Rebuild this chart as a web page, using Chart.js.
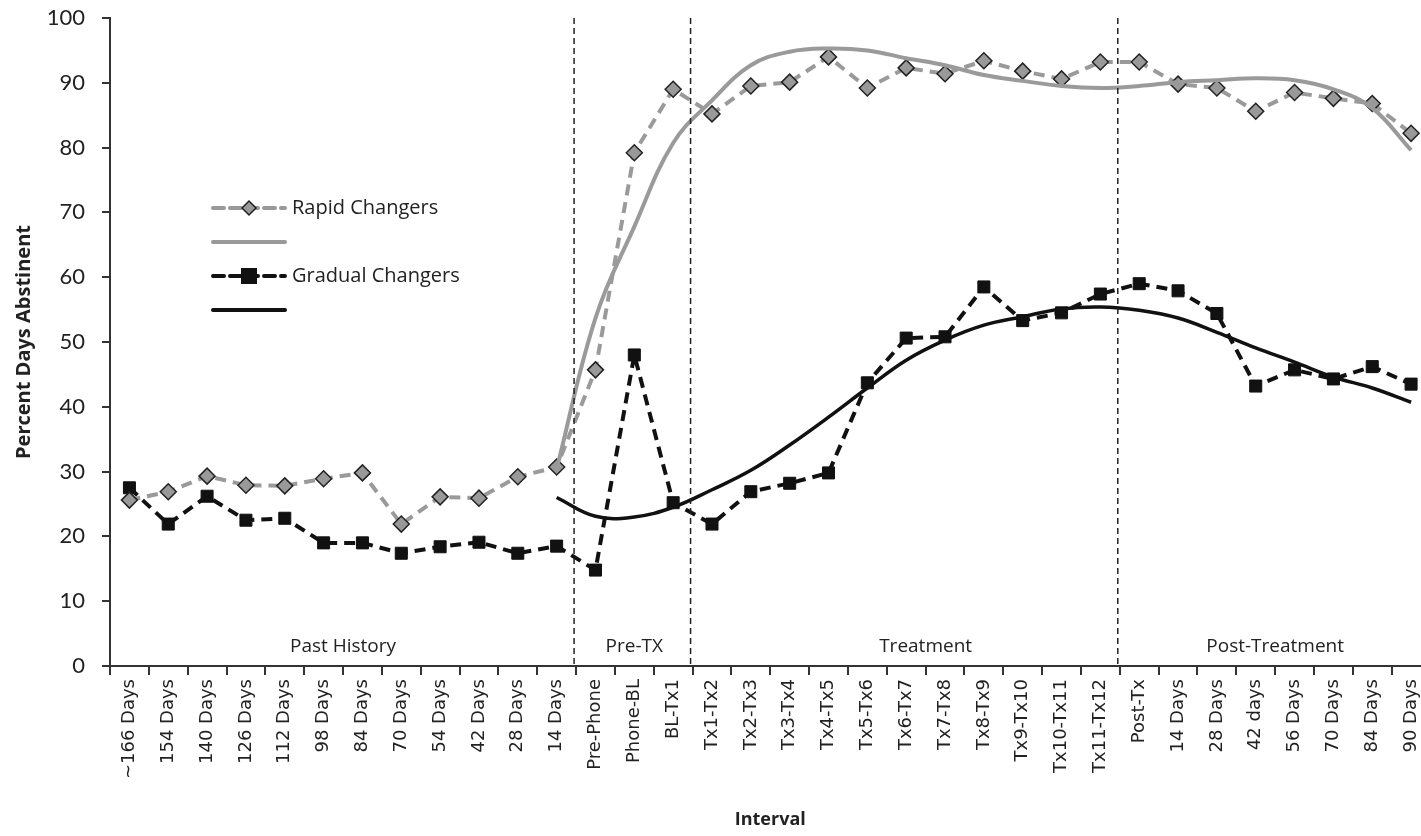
<!DOCTYPE html>
<html>
<head>
<meta charset="utf-8">
<script src="https://cdn.jsdelivr.net/npm/chart.js@4.4.1/dist/chart.umd.min.js"></script>
<style>
  html, body { margin: 0; padding: 0; background: #fff; overflow: hidden; }
  #wrap { width: 1421px; height: 836px; overflow: hidden; }
</style>
</head>
<body>
<div id="wrap"><canvas id="abst_chart" width="1440" height="836"></canvas></div>
<script>
var intervals = ["~166 Days", "154 Days", "140 Days", "126 Days", "112 Days", "98 Days", "84 Days",
    "70 Days", "54 Days", "42 Days", "28 Days", "14 Days", "Pre-Phone", "Phone-BL", "BL-Tx1",
    "Tx1-Tx2", "Tx2-Tx3", "Tx3-Tx4", "Tx4-Tx5", "Tx5-Tx6", "Tx6-Tx7", "Tx7-Tx8", "Tx8-Tx9",
    "Tx9-Tx10", "Tx10-Tx11", "Tx11-Tx12", "Post-Tx", "14 Days", "28 Days", "42 days", "56 Days",
    "70 Days", "84 Days", "90 Days"];

var rapid = [25.6, 26.9, 29.3, 27.9, 27.8, 28.9, 29.8, 21.9, 26.1, 25.9, 29.2, 30.7, 45.7, 79.2, 89.0,
    85.2, 89.5, 90.1, 94.0, 89.2, 92.3, 91.4, 93.4, 91.8, 90.6, 93.2, 93.2, 89.8, 89.2, 85.6, 88.5,
    87.6, 86.8, 82.2];

var gradual = [27.5, 21.9, 26.2, 22.5, 22.8, 19.0, 19.0, 17.4, 18.4, 19.1, 17.4, 18.5, 14.8, 48.0, 25.2,
    21.9, 26.9, 28.2, 29.8, 43.7, 50.6, 50.8, 58.5, 53.3, 54.5, 57.4, 59.0, 57.9, 54.4, 43.2, 45.7,
    44.3, 46.2, 43.5];

// fitted trend lines, only from "14 Days" on
var rapidTrend = [null, null, null, null, null, null, null, null, null, null, null, 30.4, 53.7, 67.8, 80.7,
    87.3, 92.7, 94.8, 95.3, 95.0, 93.8, 92.7, 91.2, 90.3, 89.5, 89.2, 89.5, 90.1, 90.4, 90.7, 90.4,
    89.0, 86.1, 79.6];

var gradualTrend = [null, null, null, null, null, null, null, null, null, null, null, 26.0, 23.1, 23.0, 24.5,
    27.2, 30.2, 34.1, 38.4, 42.9, 47.2, 50.3, 52.6, 53.9, 55.1, 55.4, 54.9, 53.7, 51.5, 49.1, 46.9,
    44.6, 42.9, 40.7];

var yTicks = [0, 10, 20, 30, 40, 50, 60, 70, 80, 90, 100];

// phase dividers sit between these category indexes and the next one
var dividers = [11, 14, 25];
var phaseNames = ["Past History", "Pre-TX", "Treatment", "Post-Treatment"];
var phaseCenters = [5.5, 13, 20.5, 29.5];

var phasePlugin = {
    id: "phases",
    afterDatasetsDraw: function(chart) {
        var ctx = chart.ctx;
        var xs = chart.scales.x;
        var area = chart.chartArea;
        ctx.save();
        ctx.strokeStyle = "#222";
        ctx.lineWidth = 1.5;
        ctx.setLineDash([6, 4]);
        dividers.forEach(function(i) {
            var x = (xs.getPixelForValue(i) + xs.getPixelForValue(i + 1)) / 2 - 2;
            ctx.beginPath();
            ctx.moveTo(x, area.top);
            ctx.lineTo(x, area.bottom);
            ctx.stroke();
        });
        ctx.setLineDash([]);
        ctx.fillStyle = "#222";
        ctx.font = "19px 'Open Sans'";
        ctx.textAlign = "center";
        ctx.textBaseline = "middle";
        phaseNames.forEach(function(name, k) {
            var c = phaseCenters[k];
            var x = (xs.getPixelForValue(Math.floor(c)) + xs.getPixelForValue(Math.ceil(c))) / 2;
            ctx.fillText(name, x, area.bottom - 19);
        });

        // legend inside the plot, as in the original
        var rows = [
            { y: 208, color: "#999", dash: [11, 6], marker: "diamond", text: "Rapid Changers" },
            { y: 242, color: "#999", dash: [], marker: null, text: "" },
            { y: 276, color: "#111", dash: [11, 6], marker: "square", text: "Gradual Changers" },
            { y: 310, color: "#111", dash: [], marker: null, text: "" }
        ];
        var x0 = 213, x1 = 285;
        rows.forEach(function(r) {
            ctx.strokeStyle = r.color;
            ctx.lineWidth = 4;
            ctx.lineCap = "round";
            ctx.setLineDash(r.dash);
            ctx.beginPath();
            ctx.moveTo(x0, r.y);
            ctx.lineTo(x1, r.y);
            ctx.stroke();
            ctx.setLineDash([]);
            var mx = (x0 + x1) / 2;
            if (r.marker === "diamond") {
                ctx.fillStyle = "#999";
                ctx.strokeStyle = "#222";
                ctx.lineWidth = 1.5;
                ctx.beginPath();
                ctx.moveTo(mx, r.y - 7);
                ctx.lineTo(mx + 7, r.y);
                ctx.lineTo(mx, r.y + 7);
                ctx.lineTo(mx - 7, r.y);
                ctx.closePath();
                ctx.fill();
                ctx.stroke();
            } else if (r.marker === "square") {
                ctx.fillStyle = "#111";
                ctx.fillRect(mx - 8, r.y - 8, 16, 16);
            }
            if (r.text) {
                ctx.fillStyle = "#222";
                ctx.font = "20px 'Open Sans'";
                ctx.textAlign = "left";
                ctx.fillText(r.text, 292, r.y);
            }
        });
        ctx.restore();
    }
};

var ctx = document.getElementById("abst_chart");
var chart = new Chart(ctx, {
    type: "line",
    data: {
        labels: intervals,
        datasets: [
            { label: "Rapid Changers trend", data: rapidTrend, borderColor: "#9a9a9a", borderWidth: 4,
              pointRadius: 0, tension: 0.4, fill: false },
            { label: "Gradual Changers trend", data: gradualTrend, borderColor: "#111", borderWidth: 3.5,
              pointRadius: 0, tension: 0.4, fill: false },
            { label: "Rapid Changers", data: rapid, borderColor: "#9a9a9a", borderWidth: 4,
              borderDash: [11, 7], pointStyle: "rectRot", pointRadius: 8, pointBackgroundColor: "#999",
              pointBorderColor: "#222", pointBorderWidth: 1.5, tension: 0, fill: false },
            { label: "Gradual Changers", data: gradual, borderColor: "#111", borderWidth: 4,
              borderDash: [11, 7], pointStyle: "rect", pointRadius: 8.5, pointBackgroundColor: "#111",
              pointBorderColor: "#111", pointBorderWidth: 1, tension: 0, fill: false }
        ]
    },
    options: {
        responsive: false,
        animation: false,
        layout: { padding: { top: 18, right: 1, left: 0, bottom: 0 } },
        plugins: {
            legend: { display: false },
            tooltip: { enabled: false }
        },
        scales: {
            x: {
                offset: true,
                grid: { display: true, drawOnChartArea: false, drawTicks: true, tickLength: 9,
                        color: "#333", lineWidth: 2, offset: true },
                border: { display: true, color: "#333", width: 2 },
                ticks: { color: "#222", font: { family: "DejaVu Sans", size: 18 }, minRotation: 90,
                         maxRotation: 90, autoSkip: false, padding: 4 },
                title: { display: true, text: "Interval", color: "#222",
                         font: { family: "Open Sans", size: 18, weight: "bold" }, padding: { top: 0, bottom: 5 } },
                afterFit: function(s) { s.height = 170; s.paddingLeft = 0; s.paddingRight = 0; }
            },
            y: {
                min: 0,
                max: 100,
                afterBuildTicks: function(s) { s.ticks = yTicks.map(function(v) { return { value: v }; }); },
                grid: { display: true, drawOnChartArea: false, drawTicks: true, tickLength: 8,
                        color: "#333", lineWidth: 2 },
                border: { display: true, color: "#333", width: 2 },
                ticks: { color: "#222", font: { family: "Lato", size: 22 }, padding: 17 },
                title: { display: true, text: "Percent Days Abstinent", color: "#222",
                         font: { family: "Open Sans", size: 20, weight: "bold" }, padding: { top: 12, bottom: 4 } },
                afterFit: function(s) { s.width = 110; s.paddingTop = 0; s.paddingBottom = 0; }
            }
        }
    },
    plugins: [phasePlugin]
});
</script>
</body>
</html>
